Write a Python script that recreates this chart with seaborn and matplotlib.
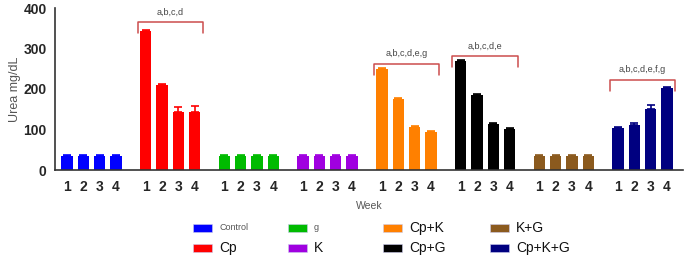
import numpy as np
import pandas as pd
import matplotlib
matplotlib.use("Agg")
import matplotlib.pyplot as plt
from matplotlib.patches import Rectangle
import seaborn as sns

# Datos
grupos = ["Control", "Cp", "g", "K", "Cp+K", "Cp+G", "K+G", "Cp+K+G"]
colores = ["#0000ff", "#ff0000", "#00bb00", "#a000e0", "#ff8000", "#000000", "#8b5a1e", "#000080"]
semanas = ["1", "2", "3", "4"]

control = [35, 35, 35, 35]
cp = [344, 210, 144, 144]
g = [35, 35, 35, 35]
k = [35, 35, 35, 35]
cp_k = [249, 175, 106, 95]
cp_g = [269, 186, 113, 101]
k_g = [35, 35, 35, 35]
cp_k_g = [103, 111, 150, 203]

err_control = [2, 2, 2, 2]
err_cp = [2, 2, 11, 13]
err_g = [2, 2, 2, 2]
err_k = [2, 2, 2, 2]
err_cp_k = [2, 2, 2, 2]
err_cp_g = [2, 2, 3, 2]
err_k_g = [2, 2, 2, 2]
err_cp_k_g = [3, 6, 10, 3]

# Anotaciones de significancia: grupo, texto, altura del corchete
anot_grupos = ["Cp", "Cp+K", "Cp+G", "Cp+K+G"]
anot_textos = ["a,b,c,d", "a,b,c,d,e,g", "a,b,c,d,e", "a,b,c,d,e,f,g"]
anot_alturas = [365, 262, 281, 222]

valores = [control, cp, g, k, cp_k, cp_g, k_g, cp_k_g]
errores = [err_control, err_cp, err_g, err_k, err_cp_k, err_cp_g, err_k_g, err_cp_k_g]

paso_grupo = 4.83
filas = []
for i, (grp, vals, errs) in enumerate(zip(grupos, valores, errores)):
    for j, (v, e) in enumerate(zip(vals, errs)):
        filas.append({"grupo": grp, "semana": semanas[j], "pos": i * paso_grupo + j + 1,
                      "urea": v, "err": e})
df = pd.DataFrame(filas)

sns.set_theme(style="white")
plt.rcParams["font.family"] = ["Liberation Sans", "DejaVu Sans"]

W, H = 685, 258
fig = plt.figure(figsize=(W / 100, H / 100), dpi=100)
ax = fig.add_axes([55 / W, 1 - 170 / H, 628 / W, 162 / H])

sns.barplot(data=df, x="pos", y="urea", hue="grupo", hue_order=grupos, palette=colores,
            native_scale=True, dodge=False, width=0.7, errorbar=None, legend=False, ax=ax,
            linewidth=0, saturation=1)

for i, grp in enumerate(grupos):
    sub = df[df["grupo"] == grp]
    ax.errorbar(sub["pos"], sub["urea"], yerr=[np.zeros(len(sub)), sub["err"]], fmt="none",
                ecolor=colores[i], elinewidth=1.2, capsize=3, capthick=1.2)

# Corchetes
color_corchete = "#cc4d4d"
for grp, txt, h in zip(anot_grupos, anot_textos, anot_alturas):
    sub = df[df["grupo"] == grp]
    x0 = sub["pos"].min() - 0.5
    x1 = sub["pos"].max() + 0.5
    ax.plot([x0, x0, x1, x1], [h - 27, h, h, h - 27], color=color_corchete, lw=1.1,
            clip_on=False)
    ax.text((x0 + x1) / 2, h + 14, txt, ha="center", va="bottom", fontsize=6.5,
            color="#444444")

ax.set_xlim(1 - 12 / 16.3, 1 + 616 / 16.3)
ax.set_ylim(0, 400)
ax.set_yticks([0, 100, 200, 300, 400])
ax.set_xticks(df["pos"])
ax.set_xticklabels(df["semana"], fontsize=10, fontweight="bold")
for lab in ax.get_yticklabels():
    lab.set_fontweight("bold")
    lab.set_fontsize(10)
ax.tick_params(axis="both", direction="out", length=4, width=1, color="#333333", pad=2)
ax.tick_params(axis="x", length=5)
ax.set_ylabel("Urea mg/dL", fontsize=9, color="#555555", labelpad=2)
ax.set_xlabel("Week", fontsize=7.5, color="#555555", labelpad=5)
sns.despine(ax=ax)
for s in ["left", "bottom"]:
    ax.spines[s].set_color("#333333")
    ax.spines[s].set_linewidth(1.2)

# Leyenda dibujada a mano: 4 columnas x 2 filas (orden por columnas)
columnas_x = [193, 288, 383, 490]
filas_y = [228, 248]
for i, (grp, col) in enumerate(zip(grupos, colores)):
    x = columnas_x[i // 2]
    y = filas_y[i % 2]
    fig.patches.append(Rectangle((x / W, 1 - (y + 4) / H), 19 / W, 8 / H, facecolor=col,
                                 edgecolor="#ccccee", linewidth=0.4,
                                 transform=fig.transFigure, figure=fig))
    pequeno = grp in ("Control", "g")
    fig.text((x + 26) / W, 1 - y / H, grp, ha="left", va="center",
             fontsize=6.5 if pequeno else 10, color="#555555" if pequeno else "#111111")

fig.savefig("out.png", dpi=100)
